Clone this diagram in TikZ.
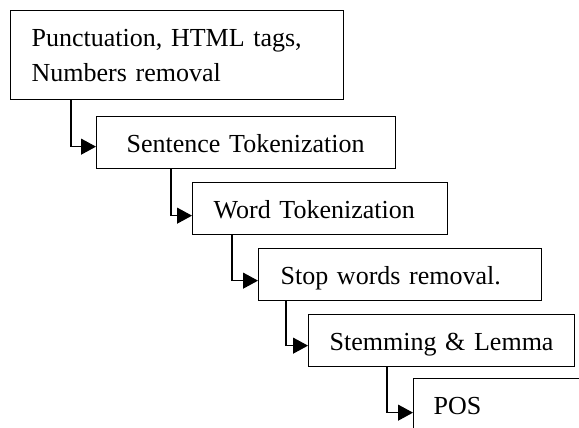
\documentclass[tikz,border=0pt]{standalone}
\usepackage{fontspec}
\setmainfont{Liberation Serif}
\usetikzlibrary{arrows.meta}
\tikzset{
  stagebox/.style={draw=black, line width=1.3pt, rectangle, anchor=north west,
    inner xsep=21pt, inner ysep=0pt, align=left,
    font=\fontsize{26}{35}\selectfont},
  oneline/.style={text height=19pt, text depth=0pt},
  conn/.style={draw=black, line width=1.1pt,
    -{Triangle[length=15pt,width=16pt]}},
}
\begin{document}
\begin{tikzpicture}[x=1pt,y=-1pt]
  \clip (0,0) rectangle (579,428);
  \fill[white] (0,0) rectangle (579,428);

  % processing stages
  \node[stagebox, text width=291pt, minimum height=89pt] (b1) at (10,10)
    {Punctuation, HTML tags,\\Numbers removal};
  \node[stagebox, oneline, inner xsep=30pt, text width=239pt, minimum height=52pt] (b2) at (96,116)
    {Sentence Tokenization};
  \node[stagebox, oneline, text width=213pt, minimum height=52pt] (b3) at (192,182)
    {Word Tokenization};
  \node[stagebox, oneline, inner xsep=22pt, text width=239pt, minimum height=52pt] (b4) at (258,248)
    {Stop words removal.};
  \node[stagebox, oneline, text width=224pt, minimum height=52pt] (b5) at (308,314)
    {Stemming \& Lemma};
  \node[stagebox, oneline, inner xsep=20pt, text width=160pt, minimum height=52pt] (b6) at (413,378)
    {POS};

  % elbow connectors between consecutive stages
  \draw[conn] ([xshift=61pt]b1.south west) |- ([yshift=-4pt]b2.west);
  \draw[conn] ([xshift=75pt]b2.south west) |- ([yshift=-7pt]b3.west);
  \draw[conn] ([xshift=40pt]b3.south west) |- ([yshift=-6pt]b4.west);
  \draw[conn] ([xshift=28pt]b4.south west) |- ([yshift=-5pt]b5.west);
  \draw[conn] ([xshift=79pt]b5.south west) |- ([yshift=-8pt]b6.west);
\end{tikzpicture}
\end{document}
